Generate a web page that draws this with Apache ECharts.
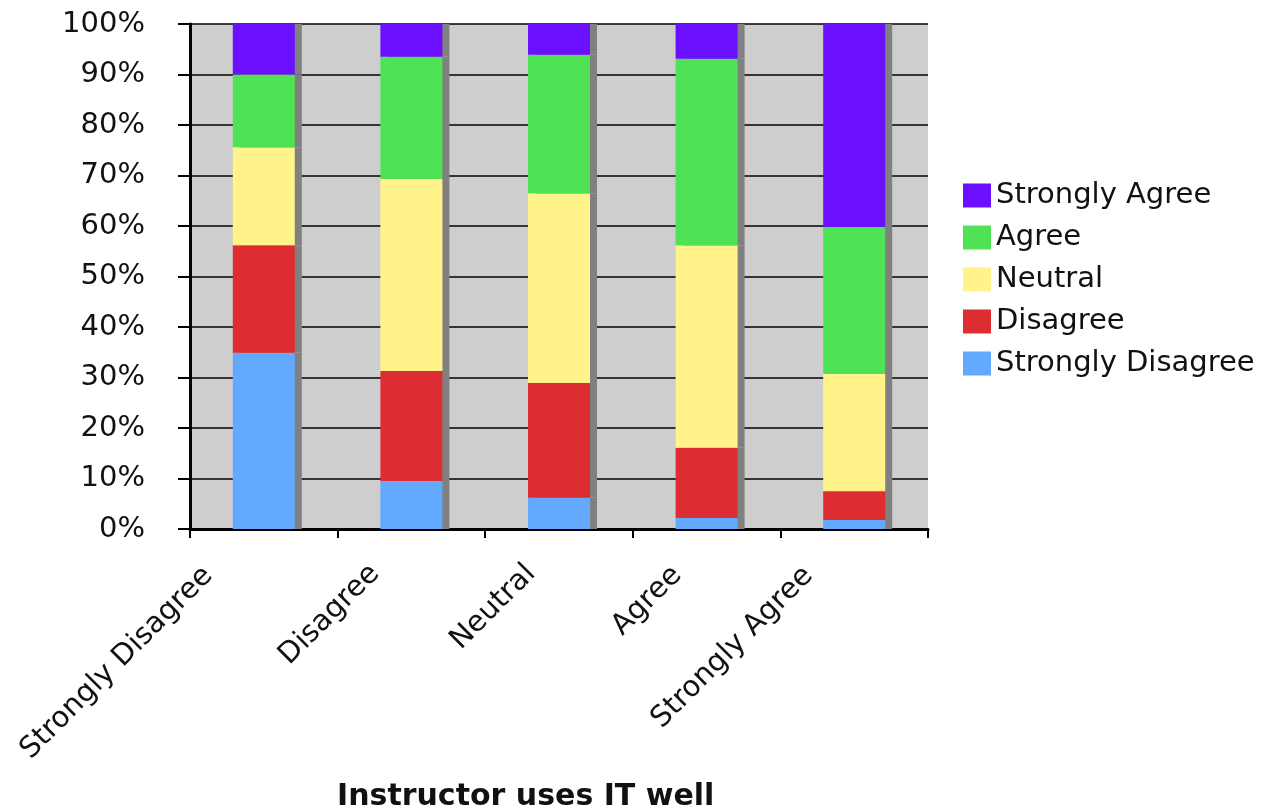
<!DOCTYPE html>
<html>
<head>
<meta charset="utf-8">
<script src="https://cdn.jsdelivr.net/npm/echarts@6/dist/echarts.min.js"></script>
<style>
html,body{margin:0;padding:0;background:#fff;}
#chart{width:1270px;height:809px;}
</style>
</head>
<body>
<div id="chart"></div>
<script>
// ---- data ----
const categories = ['Strongly Disagree', 'Disagree', 'Neutral', 'Agree', 'Strongly Agree'];
const stronglyDisagree = [34.9, 9.5, 6.2, 2.2, 1.8];
const disagree = [21.3, 21.8, 22.7, 13.9, 5.7];
const neutral = [19.4, 38.0, 37.6, 40.1, 23.2];
const agree = [14.4, 24.2, 27.4, 36.9, 29.1];
const stronglyAgree = [10.0, 6.5, 6.1, 6.9, 40.2];
const yTicks = [0, 10, 20, 30, 40, 50, 60, 70, 80, 90, 100];
const xTitle = 'Instructor uses IT well';

// ---- presentation ----
const FONT = 'DejaVu Sans, Verdana, sans-serif';
const labelPadding = [
  [1, 94, 0, 0],
  [13, 79, 0, 0],
  [19, 73, 0, 0],
  [19, 75, 0, 0],
  [8, 87, 0, 0]
];
const colors = {
  sd: '#62a9ff', d: '#dd2c32', n: '#fff38a', a: '#50e255', sa: '#6a10ff'
};

const chart = echarts.init(document.getElementById('chart'), null, {renderer: 'canvas'});

function barSeries(name, data, color) {
  return {
    name: name,
    type: 'bar',
    stack: 'total',
    data: data,
    barWidth: 62,
    itemStyle: {
      color: color,
      shadowColor: '#808080',
      shadowBlur: 0,
      shadowOffsetX: 7,
      shadowOffsetY: 0
    },
    emphasis: {disabled: true}
  };
}

const option = {
  animation: false,
  title: {
    text: xTitle,
    left: 337,
    top: 782,
    padding: 0,
    textStyle: {fontFamily: FONT, fontSize: 30, fontWeight: 'bold', color: '#111'}
  },
  legend: {
    orient: 'vertical',
    left: 963,
    top: 181,
    padding: 0,
    itemWidth: 28,
    itemHeight: 24,
    itemGap: 13,
    itemTextGap: 12,
    icon: 'rect',
    selectedMode: false,
    data: ['Strongly Agree', 'Agree', 'Neutral', 'Disagree', 'Strongly Disagree'],
    textStyle: {fontFamily: FONT, fontSize: 29, color: '#111'}
  },
  grid: {
    left: 190, right: 342, top: 24, bottom: 280,
    containLabel: false,
    outerBoundsMode: 'none',
    show: true,
    backgroundColor: '#cecece',
    borderWidth: 0
  },
  xAxis: {
    type: 'category',
    data: categories.map((c, i) => ({
      value: c,
      textStyle: {padding: labelPadding[i], verticalAlign: 'top'}
    })),
    boundaryGap: true,
    axisLine: {show: true, onZero: false, lineStyle: {color: '#000', width: 3}},
    axisTick: {show: true, length: 9, lineStyle: {color: '#000', width: 2}},
    axisLabel: {
      rotate: 45,
      margin: -35,
      interval: 0,
      hideOverlap: false,
      fontFamily: FONT,
      fontSize: 29,
      color: '#111'
    },
    splitLine: {show: false}
  },
  yAxis: {
    type: 'value',
    min: yTicks[0],
    max: yTicks[yTicks.length - 1],
    interval: 10,
    axisLine: {show: true, lineStyle: {color: '#000', width: 3}},
    axisTick: {show: true, length: 12, lineStyle: {color: '#000', width: 2}},
    axisLabel: {
      formatter: '{value}%',
      margin: 45,
      fontFamily: FONT,
      fontSize: 29,
      color: '#111'
    },
    splitLine: {show: true, lineStyle: {color: '#000', width: 1.5}}
  },
  series: [
    barSeries('Strongly Disagree', stronglyDisagree, colors.sd),
    barSeries('Disagree', disagree, colors.d),
    barSeries('Neutral', neutral, colors.n),
    barSeries('Agree', agree, colors.a),
    barSeries('Strongly Agree', stronglyAgree, colors.sa)
  ]
};
chart.setOption(option);
</script>
</body>
</html>
